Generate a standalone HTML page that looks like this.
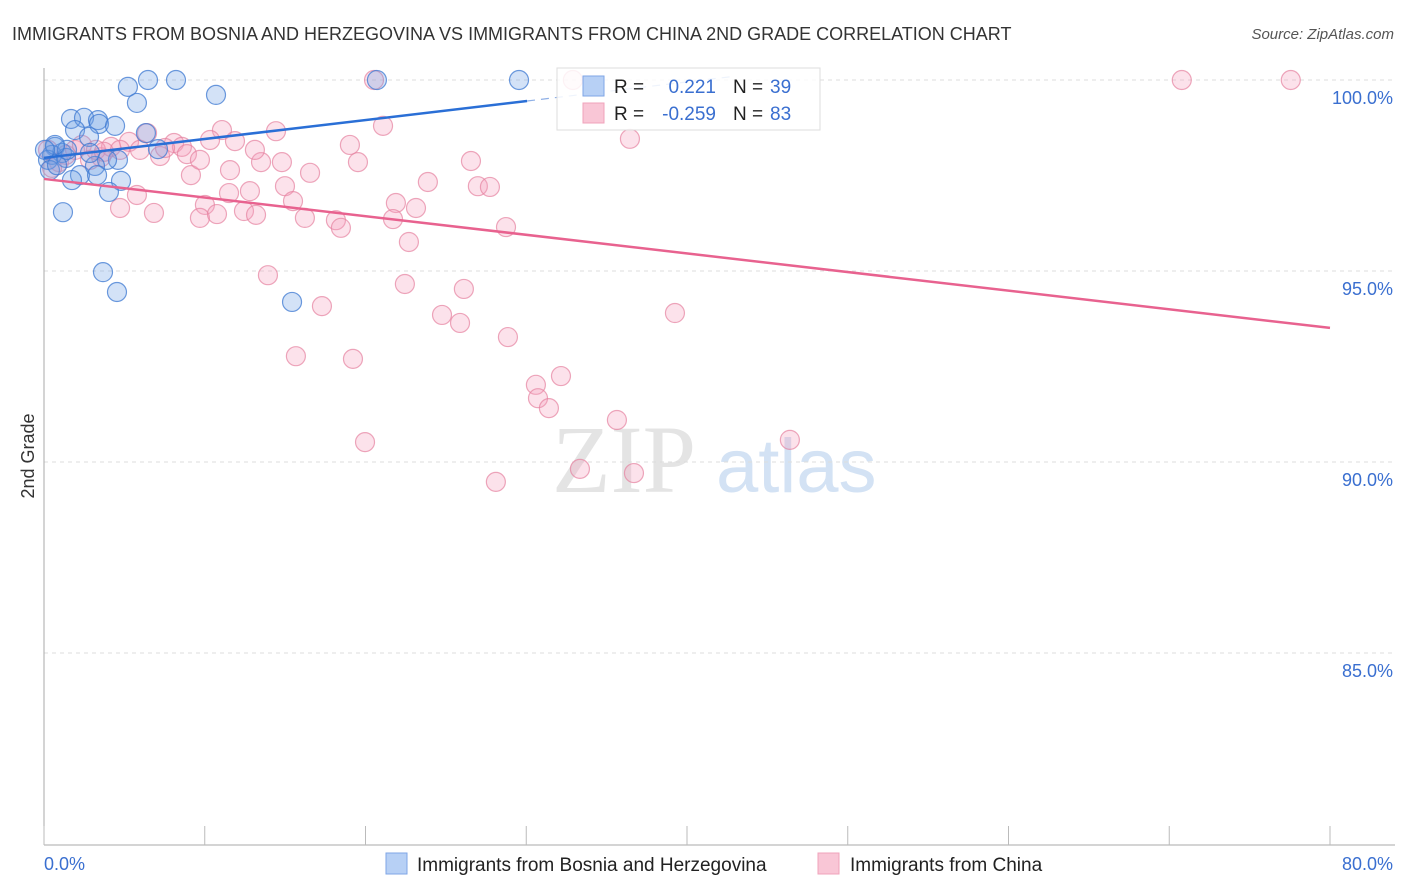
<!DOCTYPE html>
<html><head><meta charset="utf-8"><style>
body{margin:0;background:#fff;font-family:"Liberation Sans",sans-serif;}
svg{display:block}
</style></head><body>
<svg id="chart" width="1406" height="892">
<text x="12" y="40" font-size="18" fill="#333">IMMIGRANTS FROM BOSNIA AND HERZEGOVINA VS IMMIGRANTS FROM CHINA 2ND GRADE CORRELATION CHART</text>
<text x="1394" y="39" font-size="15" fill="#555" font-style="italic" text-anchor="end">Source: ZipAtlas.com</text>
<text x="34" y="456" font-size="18" fill="#333" text-anchor="middle" transform="rotate(-90 34 456)">2nd Grade</text>
<g>
<text x="552" y="492" font-size="96" font-family="Liberation Serif,serif" fill="#e4e4e4">ZIP</text>
<text x="716" y="492" font-size="76" fill="#d3e2f4">atlas</text>
</g>
<g id="grid"></g>
<g id="axes"></g>
<g id="pts"></g>
<g id="lines"></g>
<g>
<rect x="557" y="68" width="263" height="62" fill="#fff" fill-opacity="0.85" stroke="#ddd"/>
<rect x="583" y="76" width="21" height="20" fill="#b7d0f5" stroke="#7fa6e6"/>
<rect x="583" y="103" width="21" height="20" fill="#f9c6d6" stroke="#f0a3bb"/>
<text x="614" y="93" font-size="19" fill="#222">R = </text><text x="716" y="93" font-size="19" fill="#3a6fd0" text-anchor="end">0.221</text>
<text x="733" y="93" font-size="19" fill="#222">N = </text><text x="770" y="93" font-size="19" fill="#3a6fd0">39</text>
<text x="614" y="120" font-size="19" fill="#222">R = </text><text x="716" y="120" font-size="19" fill="#3a6fd0" text-anchor="end">-0.259</text>
<text x="733" y="120" font-size="19" fill="#222">N = </text><text x="770" y="120" font-size="19" fill="#3a6fd0">83</text>
</g>
<g>
<rect x="386" y="853" width="21" height="21" fill="#b7d0f5" stroke="#7fa6e6"/>
<text x="417" y="871" font-size="19" fill="#222">Immigrants from Bosnia and Herzegovina</text>
<rect x="818" y="853" width="21" height="21" fill="#f9c6d6" stroke="#f0a3bb"/>
<text x="850" y="871" font-size="19" fill="#222">Immigrants from China</text>
</g>
</svg>
<script>
const xTicks=[0,10,20,30,40,50,60,70,80];
const yTicks=[100,95,90,85];
const yTickLabels=["100.0%","95.0%","90.0%","85.0%"];
const bosniaX=[5.22,6.47,8.21,5.78,10.70,20.71,29.55,1.68,2.49,3.36,3.42,1.93,4.42,2.80,6.34,7.09,4.60,3.92,0.68,1.12,0.50,0.25,1.37,2.24,1.74,3.17,3.30,4.79,4.04,1.18,3.67,4.54,15.43,0.37,0.81,1.43,2.86,0.68,0.06];
const bosniaY=[99.82,100,100,99.40,99.61,100,100,98.98,99.01,98.95,98.85,98.69,98.80,98.51,98.61,98.19,97.91,97.91,98.25,98.09,98.04,97.91,97.96,97.51,97.38,97.75,97.51,97.36,97.07,96.54,94.97,94.45,94.19,97.64,97.77,98.17,98.09,98.30,98.17];
const chinaX=[20.53,32.90,70.78,77.56,21.09,14.43,11.07,10.33,11.88,6.41,5.29,8.09,8.58,7.22,8.89,3.55,4.17,36.45,19.03,19.53,13.50,14.80,16.55,26.56,26.99,27.74,23.88,9.14,11.51,12.81,14.99,15.49,21.89,23.14,10.01,5.78,4.73,6.84,9.70,10.76,12.44,13.19,16.23,18.16,18.47,21.71,28.74,22.70,13.93,22.45,26.12,17.29,24.76,25.88,39.25,28.86,15.67,19.22,32.16,30.60,30.73,31.41,35.64,19.97,46.40,33.34,36.70,28.11,0.93,1.37,0.50,0.25,2.86,1.93,2.36,3.23,3.73,5.97,7.53,9.70,11.57,13.12,4.73];
const chinaY=[100,100,100,100,98.80,98.66,98.69,98.43,98.40,98.61,98.38,98.35,98.25,98.01,98.06,97.98,98.25,98.46,98.30,97.85,97.85,97.85,97.57,97.88,97.22,97.20,97.33,97.51,97.04,97.09,97.22,96.83,96.78,96.65,96.73,96.99,96.65,96.52,96.39,96.49,96.57,96.47,96.39,96.33,96.13,96.36,96.15,95.76,94.89,94.66,94.53,94.08,93.85,93.64,93.90,93.27,92.77,92.70,92.25,92.02,91.67,91.41,91.10,90.52,90.58,89.82,89.71,89.48,97.85,98.04,97.70,98.17,97.91,98.17,98.30,98.17,98.12,98.17,98.22,97.91,97.64,98.17,98.17];
const bosniaTrend=[[0,97.96],[30.05,99.45]];
const bosniaTrendDash=[[30.05,99.45],[43,100.1]];
const chinaTrend=[[0,97.41],[80,93.51]];
const NS="http://www.w3.org/2000/svg";
const sx=v=>44+v*(1286/80);
const sy=v=>80+(100-v)*38.2;
function mk(tag,attrs,parent){const e=document.createElementNS(NS,tag);for(const k in attrs)e.setAttribute(k,attrs[k]);parent.appendChild(e);return e;}
const grid=document.getElementById('grid'),axes=document.getElementById('axes'),pts=document.getElementById('pts'),lines=document.getElementById('lines');
yTicks.forEach((t,i)=>{
 const g=mk('line',{x1:44,x2:1395,y1:sy(t),y2:sy(t),stroke:'#ddd','stroke-dasharray':'4 4'},grid);
 
 
 const l=mk('text',{x:1393,y:sy(t)+24,'font-size':18,fill:'#3a6fd0','text-anchor':'end'},axes);
 l.textContent=yTickLabels[i];
 
 
});
const ya=mk('line',{x1:44,x2:44,y1:68,y2:845,stroke:'#aaa'},axes);


const xa=mk('line',{x1:44,x2:1395,y1:845,y2:845,stroke:'#aaa'},axes);


xTicks.forEach(t=>{
 const k=mk('line',{x1:sx(t),x2:sx(t),y1:826,y2:845,stroke:'#bbb'},axes);
 
 
});
const xl0=mk('text',{x:44,y:870,'font-size':18,fill:'#3a6fd0'},axes);xl0.textContent=xTicks[0].toFixed(1)+'%';


const xl1=mk('text',{x:1393,y:870,'font-size':18,fill:'#3a6fd0','text-anchor':'end'},axes);xl1.textContent=xTicks[xTicks.length-1].toFixed(1)+'%';


chinaX.forEach((x,i)=>{
 const c=mk('circle',{cx:sx(x),cy:sy(chinaY[i]),r:9.5,fill:'rgba(244,160,188,0.3)',stroke:'rgba(230,130,160,0.7)','stroke-width':1.2},pts);
 
 
});
bosniaX.forEach((x,i)=>{
 const c=mk('circle',{cx:sx(x),cy:sy(bosniaY[i]),r:9.5,fill:'rgba(110,160,230,0.3)',stroke:'rgba(60,120,210,0.75)','stroke-width':1.2},pts);
 
 
});
const tb=mk('line',{x1:sx(bosniaTrend[0][0]),y1:sy(bosniaTrend[0][1]),x2:sx(bosniaTrend[1][0]),y2:sy(bosniaTrend[1][1]),stroke:'#2a6fd6','stroke-width':2.5},lines);


const td=mk('line',{x1:sx(bosniaTrendDash[0][0]),y1:sy(bosniaTrendDash[0][1]),x2:sx(bosniaTrendDash[1][0]),y2:sy(bosniaTrendDash[1][1]),stroke:'#8fb0e6','stroke-width':1.2,'stroke-dasharray':'8 6'},lines);


const tc=mk('line',{x1:sx(chinaTrend[0][0]),y1:sy(chinaTrend[0][1]),x2:sx(chinaTrend[1][0]),y2:sy(chinaTrend[1][1]),stroke:'#e8628f','stroke-width':2.5},lines);


</script>
</body></html>
